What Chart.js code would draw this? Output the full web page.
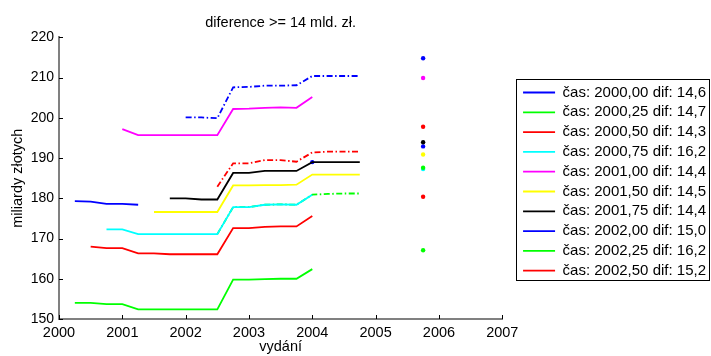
<!DOCTYPE html>
<html>
<head>
<meta charset="utf-8">
<script src="https://cdn.jsdelivr.net/npm/chart.js@4.4.1/dist/chart.umd.min.js"></script>
<style>
  html, body { margin: 0; padding: 0; background: #fff; }
  #c { display: block; }
</style>
</head>
<body>
<canvas id="c" width="711" height="356"></canvas>
<script>
// ---- data ----
const quarters = [2000.25, 2000.5, 2000.75, 2001, 2001.25, 2001.5, 2001.75, 2002, 2002.25, 2002.5,
                  2002.75, 2003, 2003.25, 2003.5, 2003.75, 2004, 2004.25, 2004.5, 2004.75];
const N = null;
const s2000_00 = [179.3, 179.2, 178.6, 178.6, 178.4, N, N, N, N, N, N, N, N, N, N, N, N, N, N];
const s2000_25 = [154.0, 154.0, 153.7, 153.7, 152.4, 152.4, 152.4, 152.4, 152.4, 152.4, 159.8, 159.8, 159.9, 160.0, 160.0, 162.4, N, N, N];
const s2000_50 = [N, 168.0, 167.6, 167.6, 166.3, 166.3, 166.1, 166.1, 166.1, 166.1, 172.6, 172.6, 172.9, 173.0, 173.0, 175.6, N, N, N];
const s2000_75 = [N, N, 172.3, 172.3, 171.1, 171.1, 171.1, 171.1, 171.1, 171.1, 177.8, 177.8, 178.4, 178.5, 178.4, 180.9, N, N, N];
const s2001_00 = [N, N, N, 197.2, 195.7, 195.7, 195.7, 195.7, 195.7, 195.7, 202.2, 202.3, 202.5, 202.6, 202.5, 205.2, N, N, N];
const s2001_50 = [N, N, N, N, N, 176.6, 176.6, 176.6, 176.6, 176.6, 183.2, 183.2, 183.3, 183.3, 183.4, 185.9, 185.9, 185.9, 185.9];
const s2001_75 = [N, N, N, N, N, N, 180.0, 180.0, 179.7, 179.7, 186.3, 186.3, 186.8, 186.8, 186.8, 189.0, 189.0, 189.0, 189.0];
const s2002_00 = [N, N, N, N, N, N, N, 200.1, 200.1, 199.9, 207.6, 207.7, 208.0, 208.0, 208.1, 210.4, 210.4, 210.4, 210.4];
const s2002_25 = [N, N, N, N, N, N, N, N, N, 171.1, 177.8, 177.8, 178.4, 178.5, 178.4, 180.9, 181.1, 181.2, 181.2];
const s2002_50 = [N, N, N, N, N, N, N, N, N, 182.9, 188.7, 188.7, 189.5, 189.5, 189.1, 191.4, 191.6, 191.6, 191.6];

const seriesLabels = [
  'čas: 2000,00 dif: 14,6', 'čas: 2000,25 dif: 14,7', 'čas: 2000,50 dif: 14,3',
  'čas: 2000,75 dif: 16,2', 'čas: 2001,00 dif: 14,4', 'čas: 2001,50 dif: 14,5',
  'čas: 2001,75 dif: 14,4', 'čas: 2002,00 dif: 15,0', 'čas: 2002,25 dif: 16,2',
  'čas: 2002,50 dif: 15,2'
];
const seriesValues = [s2000_00, s2000_25, s2000_50, s2000_75, s2001_00, s2001_50, s2001_75, s2002_00, s2002_25, s2002_50];

// separate markers
const dotX = [2005.75, 2005.75, 2005.75, 2005.75, 2005.75, 2005.75, 2005.75, 2005.75, 2005.75, 2005.75, 2004];
const dotY = [192.9, 167.1, 180.4, 187.3, 209.9, 190.9, 193.95, 214.8, 187.6, 197.8, 189.0];

const xTickLabels = ['2000', '2001', '2002', '2003', '2004', '2005', '2006', '2007'];
const yTickLabels = ['150', '160', '170', '180', '190', '200', '210', '220'];

// ---- styles ----
const colors = ['#0000ff', '#00ff00', '#ff0000', '#00ffff', '#ff00ff', '#ffff00', '#000000', '#0000ff', '#00ff00', '#ff0000'];
const dashDot = [6, 2.5, 1.5, 2.5];
const dashes = [[], [], [], [], [], [], [], dashDot, dashDot, dashDot];
const dotColors = ['#0000ff', '#00ff00', '#ff0000', '#00ffff', '#ff00ff', '#ffff00', '#000000', '#0000ff', '#00ff00', '#ff0000', '#0000ff'];

const FONT = "'Liberation Sans', Arial, Helvetica, sans-serif";
Chart.defaults.font.family = FONT;
Chart.defaults.color = '#000';

const datasets = seriesValues.map((vals, i) => ({
  label: seriesLabels[i],
  data: quarters.map((q, j) => ({ x: q, y: vals[j] })).filter(p => p.y !== null),
  borderColor: colors[i],
  backgroundColor: colors[i],
  borderDash: dashes[i],
  borderWidth: 1.8,
  pointRadius: 0,
  tension: 0,
  fill: false
}));
datasets.push({
  type: 'scatter',
  label: 'dots',
  data: dotX.map((x, i) => ({ x: x, y: dotY[i] })),
  pointBackgroundColor: dotColors,
  pointBorderColor: dotColors,
  pointBorderWidth: 0,
  pointRadius: 2.2,
  showLine: false
});

const innerTicks = {
  id: 'innerTicks',
  afterDraw(chart) {
    const ctx = chart.ctx, ca = chart.chartArea;
    const xs = chart.scales.x, ys = chart.scales.y;
    ctx.save();
    ctx.strokeStyle = '#000';
    ctx.lineWidth = 1;
    ctx.beginPath();
    ys.ticks.forEach(t => {
      const py = Math.round(ys.getPixelForValue(t.value)) + 0.5;
      ctx.moveTo(ca.left, py); ctx.lineTo(ca.left + 4, py);
    });
    xs.ticks.forEach(t => {
      const px = Math.round(xs.getPixelForValue(t.value)) + 0.5;
      ctx.moveTo(px, ca.bottom); ctx.lineTo(px, ca.bottom - 4);
    });
    ctx.stroke();
    // legend frame
    const lg = chart.legend;
    if (lg && lg.legendHitBoxes && lg.legendHitBoxes.length) {
      const hb = lg.legendHitBoxes;
      let maxR = 0;
      hb.forEach(h => { maxR = Math.max(maxR, h.left + h.width); });
      const l = Math.round(hb[0].left - 7.5) + 0.5;
      const t = Math.round(hb[0].top - 5.5) + 0.5;
      const b = Math.round(hb[hb.length - 1].top + hb[hb.length - 1].height + 2) + 0.5;
      const r = Math.round(maxR + 3) + 0.5;
      ctx.lineWidth = 1;
      ctx.strokeStyle = '#000';
      ctx.strokeRect(l, t, r - l, b - t);
    }
    ctx.restore();
  }
};

new Chart(document.getElementById('c'), {
  type: 'line',
  data: { datasets },
  options: {
    responsive: false,
    animation: false,
    devicePixelRatio: 1,
    layout: { padding: { left: 0, right: -5, top: 0, bottom: 0 } },
    plugins: {
      title: {
        display: true,
        text: 'diference >= 14 mld. zł.',
        fullSize: false,
        font: { size: 14.5, weight: 'normal' },
        color: '#000',
        padding: { top: 14, bottom: 6 }
      },
      legend: {
        position: 'right',
        align: 'center',
        maxWidth: 260,
        title: { display: true, text: '', font: { size: 1 }, padding: { top: 3, bottom: 3 } },
        labels: {
          usePointStyle: true,
          pointStyle: 'line',
          pointStyleWidth: 32,
          boxHeight: 15,
          padding: 4.8,
          color: '#000',
          font: { size: 15 },
          filter: (item) => item.datasetIndex < 10
        }
      },
      tooltip: { enabled: false }
    },
    scales: {
      x: {
        type: 'linear',
        min: 2000, max: 2007,
        grid: { display: false, drawTicks: false },
        border: { display: true, color: '#808080', width: 2 },
        ticks: {
          stepSize: 1,
          padding: 5,
          font: { size: 14.5 },
          color: '#000',
          maxRotation: 0,
          callback: (v, i) => xTickLabels[i]
        },
        title: { display: true, text: 'vydání', font: { size: 14.5 }, color: '#000', padding: { top: 0, bottom: 0 } },
        afterFit: (s) => { s.height = 37; }
      },
      y: {
        type: 'linear',
        min: 150, max: 220,
        grid: { display: false, drawTicks: false },
        border: { display: true, color: '#808080', width: 2 },
        ticks: {
          stepSize: 10,
          padding: 5,
          font: { size: 14 },
          color: '#000',
          callback: (v, i) => yTickLabels[i]
        },
        title: { display: true, text: 'miliardy złotych', font: { size: 14.5 }, color: '#000', padding: { top: 9, bottom: 0 } },
        afterFit: (s) => { s.width = 59; }
      },
      sp: {
        type: 'linear',
        position: 'right',
        display: true,
        grid: { display: false, drawTicks: false },
        border: { display: false },
        ticks: { display: false },
        afterFit: (s) => { s.width = 16; }
      }
    }
  },
  plugins: [innerTicks]
});
</script>
</body>
</html>
